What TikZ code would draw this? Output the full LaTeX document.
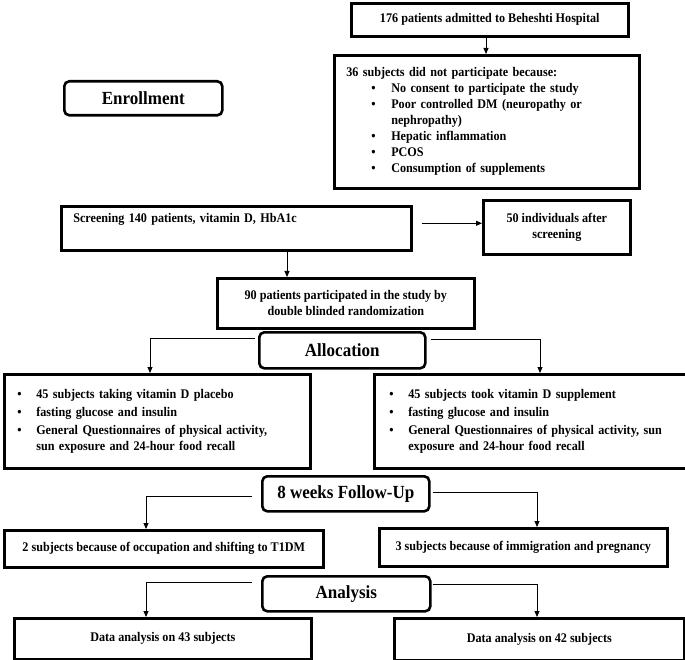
\documentclass[tikz,border=0pt]{standalone}
\usepackage{fontspec}
\setmainfont{Liberation Serif}[FakeStretch=0.92]
\usetikzlibrary{arrows.meta}
\newcommand{\bul}[1]{\makebox[#1][l]{\textbullet}}
\begin{document}
\begin{tikzpicture}[x=1pt,y=-1pt,
  font=\fontsize{13.2}{16}\selectfont\bfseries,
  box/.style={draw,line width=2.6pt,anchor=north west,inner sep=0pt},
  hdr/.style={draw,line width=2.6pt,rounded corners=5pt,anchor=north west,inner sep=0pt,
    font=\fontsize{18.5}{20}\selectfont\bfseries},
  arr/.style={line width=0.9pt,-{Triangle[length=6pt,width=5pt]}}]
\useasboundingbox (0,0) rectangle (685,660);

\node[box,minimum width=277pt,minimum height=33pt] (b1) at (350,2) {176 patients admitted to Beheshti Hospital};
\node[box,minimum width=305pt,minimum height=133pt,align=left,text width=281pt,inner xsep=12pt] (b2) at (333,54)
 {36 subjects did not participate because:\\
  \hspace*{25pt}\bul{20pt}No consent to participate the study\\
  \hspace*{25pt}\bul{20pt}Poor controlled DM (neuropathy or\\
  \hspace*{45pt}nephropathy)\\
  \hspace*{25pt}\bul{20pt}Hepatic inflammation\\
  \hspace*{25pt}\bul{20pt}PCOS\\
  \hspace*{25pt}\bul{20pt}Consumption of supplements};
\node[hdr,minimum width=158pt,minimum height=34pt] (enr) at (63,80) {Enrollment};

\node[box,minimum width=350pt,minimum height=44pt,align=left,text width=326pt,inner xsep=12pt] (scr) at (60,205)
 {Screening 140 patients, vitamin D, HbA1c\\[4pt]\mbox{}};
\node[box,minimum width=147pt,minimum height=54pt,align=center] (fifty) at (482,199)
 {50 individuals after\\screening};
\node[box,minimum width=257pt,minimum height=50pt,align=center] (ninety) at (216,277)
 {90 patients participated in the study by\\double blinded randomization};
\node[hdr,minimum width=166pt,minimum height=36pt] (alloc) at (258,331) {Allocation};

\node[box,minimum width=296pt,minimum height=94pt,align=left,text width=280pt,inner xsep=13pt] (lbox) at (3,373)
 {\bul{19pt}45 subjects taking vitamin D placebo\\[2pt]
  \bul{19pt}fasting glucose and insulin\\[2pt]
  \bul{19pt}General Questionnaires of physical activity,\\
  \hspace*{19pt}sun exposure and 24-hour food recall};
\node[box,minimum width=310pt,minimum height=94pt,align=left,text width=290pt,inner xsep=15pt] (rbox) at (373,373)
 {\bul{19pt}45 subjects took vitamin D supplement\\[2pt]
  \bul{19pt}fasting glucose and insulin\\[2pt]
  \bul{19pt}General Questionnaires of physical activity, sun\\
  \hspace*{19pt}exposure and 24-hour food recall};

\node[hdr,minimum width=167pt,minimum height=35pt] (fu) at (261,475) {8 weeks Follow-Up};
\node[box,minimum width=319pt,minimum height=37pt] (f2) at (3,529) {2 subjects because of occupation and shifting to T1DM};
\node[box,minimum width=288pt,minimum height=38pt] (f3) at (378,527) {3 subjects because of immigration and pregnancy};

\node[hdr,minimum width=168pt,minimum height=35pt] (an) at (261,575) {Analysis};
\node[box,minimum width=297pt,minimum height=41pt] (d43) at (13,617) {Data analysis on 43 subjects};
\node[box,minimum width=290pt,minimum height=42pt] (d42) at (393,617) {Data analysis on 42 subjects};

% connector reference columns
\coordinate (cA) at (486,0);
\coordinate (cS) at (287,0);
\coordinate (cL1) at (150,0);
\coordinate (cR1) at (540,0);
\coordinate (cL2) at (146,0);
\coordinate (cR2) at (537,0);

\draw[arr] (cA |- b1.south) -- (cA |- b2.north);
\draw[arr] ([xshift=9pt,yshift=5pt]scr.east) -- ([yshift=5pt]scr.east -| fifty.west);
\draw[arr] (cS |- scr.south) -- (cS |- ninety.north);

\draw[arr] ([xshift=-3pt,yshift=-7pt]alloc.north west) -| (cL1 |- lbox.north);
\draw[arr] ([xshift=4pt,yshift=-8pt]alloc.north east) -| (cR1 |- rbox.north);

\draw[arr] ([xshift=-9pt,yshift=-21pt]fu.north west) -| (cL2 |- f2.north);
\draw[arr] ([xshift=2pt,yshift=-17pt]fu.north east) -| (cR2 |- f3.north);

\draw[arr] ([xshift=-9pt,yshift=-7pt]an.north west) -| (cL2 |- d43.north);
\draw[arr] ([xshift=1pt,yshift=-9pt]an.north east) -| (cR2 |- d42.north);
\end{tikzpicture}
\end{document}
